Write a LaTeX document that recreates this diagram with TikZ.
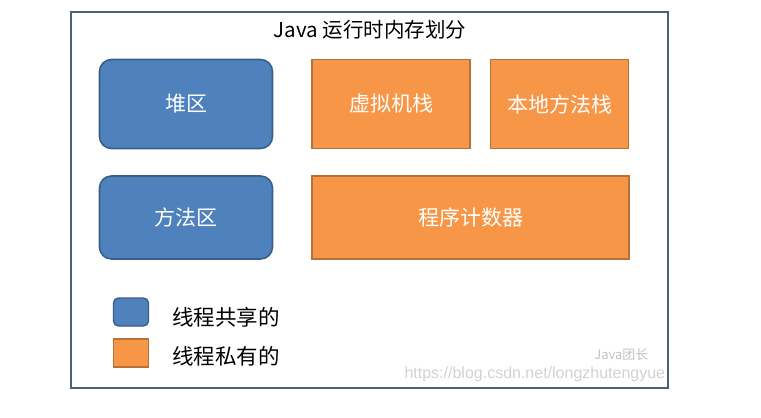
\documentclass[tikz,border=0pt]{standalone}
\usepackage{fontspec}
\setmainfont{Liberation Sans}
\newfontfamily\cjk{Noto Sans CJK SC}
\definecolor{sharedfill}{HTML}{4F81BD}
\definecolor{sharedline}{HTML}{3A5F8B}
\definecolor{privfill}{HTML}{F79646}
\definecolor{privline}{HTML}{B9713A}
\definecolor{frameline}{HTML}{4E6172}
\definecolor{markgray}{HTML}{D2D2D2}

\begin{document}
\begin{tikzpicture}[x=1pt,y=-1pt,
  area/.style={draw, line width=1.6pt, outer sep=0pt, inner sep=0pt,
    text=white, font=\cjk\fontsize{21}{21}\selectfont},
  shared/.style={area, fill=sharedfill, draw=sharedline, rounded corners=12pt},
  private/.style={area, fill=privfill, draw=privline},
  legendkey/.style={draw, line width=1.4pt, minimum width=35pt, minimum height=28pt,
    outer sep=0pt, inner sep=0pt},
  legendtext/.style={anchor=west, inner sep=0pt, font=\cjk\fontsize{21.5}{21.5}\selectfont}]
\useasboundingbox (0,0) rectangle (761,418);
\fill[white] (0,0) rectangle (761,418);
% outer frame and title
\draw[line width=2.2pt, frameline] (71,12) rectangle (668,388);
\node[font=\cjk\fontsize{20.5}{20.5}\selectfont] (title) at (370,30) {Java 运行时内存划分};
% memory areas
\node[shared, minimum width=173pt, minimum height=89pt] (heap) at (186,104) {堆区};
\node[shared, minimum width=173pt, minimum height=83pt] (method) at (186,217.5) {方法区};
\node[private, minimum width=158pt, minimum height=89pt] (vmstack) at (391,104) {虚拟机栈};
\node[private, minimum width=138pt, minimum height=89pt] (nativestack) at (559.5,104) {本地方法栈};
\node[private, minimum width=317pt, minimum height=83pt] (pc) at (470.5,217.5) {程序计数器};
% legend
\node[legendkey, fill=sharedfill, draw=sharedline, rounded corners=5pt] (keyshared) at (131,312) {};
\node[legendkey, fill=privfill, draw=privline] (keyprivate) at (131,353) {};
\node[legendtext] (txtshared) at (172,317) {线程共享的};
\node[legendtext] (txtprivate) at (172,356) {线程私有的};
% watermark
\node[anchor=east, text=markgray!80!gray, font=\cjk\fontsize{13}{13}\selectfont] (markname) at (652,355) {Java团长};
\node[anchor=west, text=markgray, font=\fontsize{16}{16}\selectfont] (markurl) at (401,374) {https://blog.csdn.net/longzhutengyue};
\end{tikzpicture}
\end{document}
